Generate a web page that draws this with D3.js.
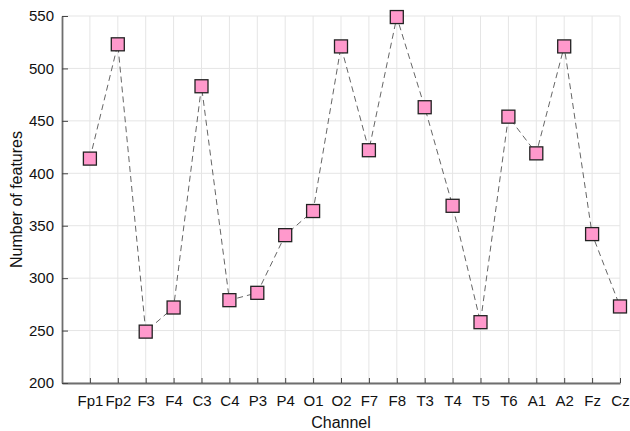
<!DOCTYPE html>
<html>
<head>
<meta charset="utf-8">
<script src="https://cdn.jsdelivr.net/npm/d3@7"></script>
<style>
  body { margin: 0; background: #fff; }
  text { font-family: "Liberation Sans", Arial, sans-serif; }
</style>
</head>
<body>
<div id="chart"></div>
<script>
// channels on x axis
var channels = ["Fp1", "Fp2", "F3", "F4", "C3", "C4", "P3", "P4", "O1", "O2",
                "F7", "F8", "T3", "T4", "T5", "T6", "A1", "A2", "Fz", "Cz"];
// number of features per channel
var features = [414, 523, 249, 272, 483, 279, 286, 341, 364, 521,
                422, 549, 463, 369, 258, 454, 419, 521, 342, 273];
var yTicks = [200, 250, 300, 350, 400, 450, 500, 550];

var W = 630, H = 431;
var margin = { top: 16, right: 10, bottom: 48, left: 62 };
var plotW = 620 - margin.left;
var plotH = 383 - margin.top;

var svg = d3.select("#chart").append("svg")
    .attr("width", W)
    .attr("height", H);

var g = svg.append("g")
    .attr("transform", "translate(" + margin.left + "," + margin.top + ")");

var x = d3.scaleLinear().domain([0, channels.length]).range([0, plotW]);
var y = d3.scaleLinear().domain([200, 550]).range([plotH, 0]);

// grid
g.selectAll(".vgrid")
    .data(channels)
    .enter().append("line")
    .attr("x1", function(d, i) { return x(i + 1); })
    .attr("x2", function(d, i) { return x(i + 1); })
    .attr("y1", 0)
    .attr("y2", plotH)
    .style("stroke", "#e5e5e5")
    .style("stroke-width", 1);

g.selectAll(".hgrid")
    .data(yTicks)
    .enter().append("line")
    .attr("x1", 0)
    .attr("x2", plotW)
    .attr("y1", function(d) { return y(d); })
    .attr("y2", function(d) { return y(d); })
    .style("stroke", "#e5e5e5")
    .style("stroke-width", 1);

// axes, ticks inward
var xAxis = d3.axisBottom(x)
    .tickValues(d3.range(1, channels.length + 1))
    .tickFormat(function(d) { return channels[d - 1]; })
    .tickSizeInner(-5)
    .tickSizeOuter(0)
    .tickPadding(12);

var yAxis = d3.axisLeft(y)
    .tickValues(yTicks)
    .tickSizeInner(-6)
    .tickSizeOuter(0)
    .tickPadding(8);

var gx = g.append("g")
    .attr("transform", "translate(0," + plotH + ")")
    .call(xAxis);
var gy = g.append("g").call(yAxis);

[gx, gy].forEach(function(a) {
    a.select(".domain").style("stroke", "#6e6e6e").style("stroke-width", 1.8);
    a.selectAll(".tick line").style("stroke", "#444");
    a.selectAll(".tick text")
        .style("font-size", "15px")
        .style("fill", "#111");
});

// dashed line
var line = d3.line()
    .x(function(d, i) { return x(i + 1); })
    .y(function(d) { return y(d); });

g.append("path")
    .datum(features)
    .attr("d", line)
    .style("fill", "none")
    .style("stroke", "#666")
    .style("stroke-width", 1)
    .style("stroke-dasharray", "6,4");

// square markers
var s = 13;
g.selectAll(".marker")
    .data(features)
    .enter().append("rect")
    .attr("x", function(d, i) { return x(i + 1) - s / 2; })
    .attr("y", function(d) { return y(d) - s / 2; })
    .attr("width", s)
    .attr("height", s)
    .style("fill", "#ff99cc")
    .style("stroke", "#222")
    .style("stroke-width", 1.3);

// labels
svg.append("text")
    .attr("x", margin.left + plotW / 2)
    .attr("y", 428)
    .attr("text-anchor", "middle")
    .style("font-size", "16px")
    .style("fill", "#111")
    .text("Channel");

svg.append("text")
    .attr("transform", "translate(22," + (margin.top + plotH / 2) + ") rotate(-90)")
    .attr("text-anchor", "middle")
    .style("font-size", "16px")
    .style("fill", "#111")
    .text("Number of features");
</script>
</body>
</html>
